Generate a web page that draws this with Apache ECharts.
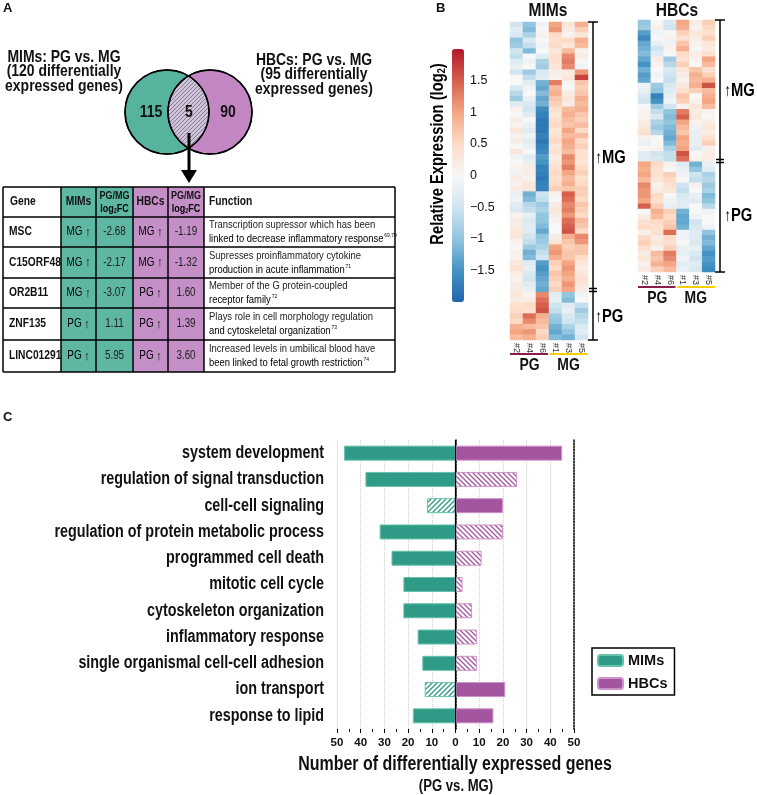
<!DOCTYPE html>
<html><head><meta charset="utf-8">
<script src="https://cdn.jsdelivr.net/npm/echarts@6/dist/echarts.min.js"></script>
<style>html,body{margin:0;padding:0;background:#fff}#c{width:757px;height:795px}</style>
</head><body><div id="c"></div>
<script>
// ================= DATA =================
// Panel A – Venn
const vennCounts = [115, 5, 90];            // MIMs only, shared, HBCs only
const vennCaptionLeft = ['MIMs: PG vs. MG', '(120 differentially', 'expressed genes)'];
const vennCaptionRight = ['HBCs: PG vs. MG', '(95 differentially', 'expressed genes)'];
// Panel A – table
const tableHeader = ['Gene', 'MIMs', 'PG/MG', 'HBCs', 'PG/MG', 'Function'];
const tableGenes = ['MSC', 'C15ORF48', 'OR2B11', 'ZNF135', 'LINC01291'];
const tableMimsDir = ['MG', 'MG', 'MG', 'PG', 'PG'];
const tableMimsFC = [-2.68, -2.17, -3.07, 1.11, 5.95];
const tableHbcsDir = ['MG', 'MG', 'PG', 'PG', 'PG'];
const tableHbcsFC = [-1.19, -1.32, 1.60, 1.39, 3.60];
const tableFunction = [
  ['Transcription supressor which has been', 'linked to decrease inflammatory response'],
  ['Supresses proinflammatory cytokine', 'production in acute inflammation'],
  ['Member of the G protein-coupled', 'receptor family'],
  ['Plays role in cell morphology regulation', 'and cytoskeletal organization'],
  ['Increased levels in umbilical blood have', 'been linked to fetal growth restriction']
];
const tableRefs = ['69,70', '71', '72', '73', '74'];

// Panel B – heatmaps (relative expression, log2)
const heatSamples = ['#2', '#4', '#6', '#1', '#3', '#5'];
const heatGroups = ['PG', 'MG'];
const colorbarTicks = [1.5, 1, 0.5, 0, -0.5, -1, -1.5];
const mimsHeat = [
  [-0.5,-1.0,-0.1,1.0,0.3,0.9],[-0.3,-1.1,0.0,1.1,0.2,0.6],[-0.4,-0.8,0.1,0.5,0.1,0.3],
  [-1.0,-0.4,0.0,0.4,0.5,0.9],[-0.9,-0.6,-0.1,0.5,0.3,0.8],[-0.5,-1.1,0.0,0.3,0.8,0.1],
  [-0.6,0.0,-0.3,0.4,1.2,0.2],[-0.3,-0.1,-0.8,0.4,1.3,0.0],[-0.2,0.0,-0.9,0.3,1.2,-0.1],
  [-0.5,-0.9,-0.4,0.2,0.2,1.1],[0.0,-0.6,-0.3,0.1,0.3,1.7],[0.0,-0.3,-1.2,1.3,0.1,0.7],
  [-0.4,-0.1,-1.3,0.8,0.0,0.6],[-0.7,0.0,-1.1,0.9,0.2,0.7],[-0.9,-0.2,-1.3,0.7,0.3,0.9],
  [-0.3,-0.4,-1.2,0.6,0.2,0.8],[0.1,-0.5,-1.6,0.4,0.8,0.9],[0.0,-0.3,-1.7,0.3,0.9,0.7],
  [0.2,0.0,-1.8,0.4,0.8,0.6],[0.1,-0.2,-1.8,0.5,0.7,0.8],[0.3,-0.3,-1.8,0.3,1.0,0.5],
  [0.1,-0.1,-1.7,0.4,0.8,0.8],[0.2,-0.3,-1.8,0.5,1.0,0.5],[0.0,-0.2,-1.7,0.3,0.9,0.6],
  [0.3,0.0,-1.6,0.4,0.8,0.4],[-0.1,-0.3,-1.4,0.2,1.2,0.4],[0.0,-0.2,-1.5,0.3,1.1,0.3],
  [0.1,0.2,-1.7,0.4,1.3,0.5],[-0.1,0.2,-1.7,0.5,1.0,0.6],[0.2,0.1,-1.8,0.4,0.8,0.4],
  [0.1,0.3,-1.7,0.5,0.9,0.5],[0.2,0.3,-1.7,0.6,0.7,0.6],[-0.2,-1.2,-0.5,0.1,1.5,0.6],
  [-0.1,-1.1,-0.6,0.0,1.4,0.5],[-0.3,-0.7,-0.9,0.2,1.2,0.7],[-0.4,-0.6,-0.8,0.3,1.3,0.6],
  [0.1,-0.2,-1.0,0.2,1.1,0.5],[0.2,-0.4,-1.0,0.1,1.4,0.8],[0.2,-0.3,-1.1,0.0,1.5,0.7],
  [0.3,-0.3,-1.3,0.0,1.6,0.5],[0.3,-0.5,-1.0,0.2,0.9,1.2],[0.1,-0.6,-0.9,0.3,0.7,1.1],
  [0.0,-0.9,-0.8,1.0,0.6,0.7],[0.1,-1.2,-0.6,1.1,0.7,0.7],[0.1,-1.1,-0.5,0.9,0.7,0.5],
  [0.3,-0.3,-1.4,0.6,1.0,0.3],[0.4,-0.2,-1.5,0.5,1.1,0.2],[0.2,-0.4,-1.4,0.7,1.0,0.3],
  [0.1,-0.5,-1.3,0.6,0.9,0.4],[0.2,-0.3,-1.2,0.5,1.1,0.3],[0.2,-0.2,-1.3,0.6,1.0,0.2],
  [0.3,0.1,1.2,-0.3,-1.0,-0.1],[0.2,0.2,1.4,-0.2,-1.1,0.0],[0.4,0.5,1.5,-0.5,-0.3,-0.6],
  [0.5,0.4,1.6,-0.6,-0.2,-0.9],[0.6,1.4,0.9,-0.9,-0.4,-0.7],[0.5,1.2,0.8,-1.0,-0.5,-0.6],
  [0.9,0.8,0.7,-1.2,-0.8,-0.4],[1.0,1.1,0.5,-1.3,-1.0,-0.3],[0.8,0.9,0.6,-1.1,-1.2,-0.5]
];
const hbcsHeat = [
  [-1.0,0.0,-0.4,1.0,0.2,0.6],[-0.9,0.1,-0.5,0.9,0.1,0.5],[-1.4,-0.1,0.0,0.6,0.3,0.4],
  [-1.6,0.0,0.1,0.4,0.2,0.6],[-1.3,-0.2,-0.1,0.7,0.1,0.3],[-1.2,-0.5,0.1,0.9,0.0,0.2],
  [-1.1,-0.3,0.0,0.5,0.2,0.4],[-1.3,0.2,-0.9,0.4,0.1,1.0],[-1.5,0.1,-0.7,0.6,0.0,0.8],
  [-1.2,0.0,-0.4,0.3,0.7,0.4],[-1.4,-0.1,-0.5,0.2,0.9,0.6],[-1.3,0.0,-0.6,0.1,0.8,0.9],
  [-0.1,-0.9,-0.4,0.3,0.9,1.6],[-0.2,-1.0,-0.3,0.4,0.6,0.8],[-0.4,-1.7,-0.2,0.7,0.0,0.9],
  [-0.5,-1.5,-0.1,0.6,0.1,1.0],[0.0,-0.9,-0.5,0.1,0.3,0.8],[0.1,-0.6,-1.0,1.3,0.2,0.1],
  [0.1,-0.4,-1.1,1.5,0.3,0.0],[0.2,-0.8,-1.0,1.0,0.1,0.2],[0.3,-0.9,-1.1,0.8,-0.1,0.3],
  [0.4,-0.7,-1.2,0.7,-0.2,0.2],[0.1,0.0,-1.3,1.0,-0.2,0.4],[-0.2,0.0,-1.1,0.9,-0.2,0.6],
  [0.0,0.1,-0.8,1.0,-0.3,0.1],[-0.3,-0.5,-0.6,1.6,0.0,0.2],[-0.3,-0.4,-0.6,1.4,0.1,0.2],
  [1.0,0.5,0.1,-0.3,-1.2,-0.2],[0.9,0.4,0.0,-0.2,-1.0,-0.3],[1.0,0.4,0.6,-0.1,-0.5,-0.8],
  [0.8,0.3,0.5,0.0,-0.6,-0.7],[1.2,0.1,0.4,-0.5,0.1,-0.9],[1.1,0.2,0.3,-0.6,0.0,-0.8],
  [1.1,0.5,0.0,-0.4,-0.2,-1.1],[1.0,0.4,-0.1,-0.3,-0.3,-1.0],[1.5,0.6,-0.2,-0.3,0.0,-0.7],
  [0.0,0.9,0.6,-1.2,0.0,-0.1],[0.2,0.8,0.5,-1.3,-0.1,0.0],[0.4,0.5,0.6,-1.3,-0.5,0.0],
  [0.5,0.4,0.7,-1.2,-0.4,-0.1],[0.1,0.4,1.4,-0.1,-0.3,-1.0],[0.5,0.2,0.5,-0.1,-0.3,-1.2],
  [0.6,0.3,0.4,0.0,-0.4,-1.1],[0.4,0.1,0.6,-0.2,-0.2,-1.3],[0.2,0.8,1.3,-0.2,-0.4,-1.5],
  [0.3,0.7,1.2,-0.1,-0.5,-1.4],[0.1,0.9,1.0,-0.3,-0.3,-1.5],[0.2,0.6,0.8,-0.2,-0.4,-1.6]
];

// Panel C – GO terms
const goTerms = ['system development', 'regulation of signal transduction', 'cell-cell signaling',
  'regulation of protein metabolic process', 'programmed cell death', 'mitotic cell cycle',
  'cytoskeleton organization', 'inflammatory response', 'single organismal cell-cell adhesion',
  'ion transport', 'response to lipid'];
const mimsCounts = [47, 38, 12, 32, 27, 22, 22, 16, 14, 13, 18];
const hbcsCounts = [45, 26, 20, 20, 11, 3, 7, 9, 9, 21, 16];
const mimsHatched = [false, false, true, false, false, false, false, false, false, true, false];
const hbcsHatched = [false, true, false, true, true, true, true, true, true, false, false];
const countTicks = [-50, -40, -30, -20, -10, 0, 10, 20, 30, 40, 50];

// ================= STYLE =================
const FF = "'Liberation Sans',Arial,Helvetica,sans-serif";
const SX = 0.82;   // horizontal squeeze to mimic a condensed face
const TEAL = '#2f9a85', TEAL_L = '#66c2ad', PURP = '#a4559f', PURP_L = '#cc92ca';
const TEAL_T = '#5db7a3', PURP_T = '#c48fc7';

function hatch(color, dir, bg, size, lw) {
  const s = size || 5;
  const c = document.createElement('canvas'); c.width = s; c.height = s;
  const g = c.getContext('2d');
  g.fillStyle = bg || '#fff'; g.fillRect(0, 0, s, s);
  g.strokeStyle = color; g.lineWidth = lw || 1.3; g.beginPath();
  if (dir > 0) { g.moveTo(0, s); g.lineTo(s, 0); g.moveTo(-1, 1); g.lineTo(1, -1); g.moveTo(s - 1, s + 1); g.lineTo(s + 1, s - 1); }
  else { g.moveTo(0, 0); g.lineTo(s, s); g.moveTo(-1, s - 1); g.lineTo(1, s + 1); g.moveTo(s - 1, -1); g.lineTo(s + 1, 1); }
  g.stroke();
  return { image: c, repeat: 'repeat' };
}

// ================= GRAPHIC helpers =================
const G = [];
function T(x, y, text, size, bold, align, fill, sx, extraStyle) {
  G.push({ type: 'text', silent: true, z: 100, x: x, y: y, scaleX: sx == null ? SX : sx,
    style: Object.assign({ text: text, x: 0, y: 0, font: (bold ? 'bold ' : '') + size + 'px ' + FF,
      fill: fill || '#111', textAlign: align || 'left', textVerticalAlign: 'middle' }, extraStyle || {}) });
}
function RT(x, y, text, rich, align, rot) {
  G.push({ type: 'text', silent: true, z: 100, x: x, y: y, scaleX: SX, rotation: rot || 0,
    style: { text: text, x: 0, y: 0, textAlign: align || 'left', textVerticalAlign: 'middle', rich: rich } });
}
function L(x1, y1, x2, y2, w, color, z) {
  G.push({ type: 'line', silent: true, shape: { x1: x1, y1: y1, x2: x2, y2: y2 },
    style: { stroke: color || '#000', lineWidth: w || 1.5 }, z: z || 90 });
}
function R(x, y, w, h, fill, z) {
  G.push({ type: 'rect', silent: true, shape: { x: x, y: y, width: w, height: h }, style: { fill: fill }, z: z || 80 });
}
const rs = (size, bold, color, extra) => Object.assign({ fontSize: size, fontWeight: bold ? 'bold' : 'normal', fontFamily: FF, color: color || '#111' }, extra || {});

// Panel labels
T(3, 8, 'A', 13, true, 'left', '#111', 1);
T(436, 8, 'B', 13, true, 'left', '#111', 1);
T(3, 417, 'C', 13, true, 'left', '#111', 1);

// ---- Venn ----
const vc = [{ x: 167, y: 112 }, { x: 210, y: 112 }], vr = 42;
G.push({ type: 'circle', silent: true, shape: { cx: vc[0].x, cy: vc[0].y, r: vr }, style: { fill: '#58b39e', stroke: '#000', lineWidth: 1.5 }, z: 80 });
G.push({ type: 'circle', silent: true, shape: { cx: vc[1].x, cy: vc[1].y, r: vr }, style: { fill: '#c287c3', stroke: '#000', lineWidth: 1.5 }, z: 81 });
(function () {
  const hd = (vc[1].x - vc[0].x) / 2, a = Math.acos(hd / vr), pts = [];
  for (let k = 0; k <= 40; k++) { const t = -a + 2 * a * k / 40; pts.push([vc[0].x + vr * Math.cos(t), vc[0].y + vr * Math.sin(t)]); }
  for (let k = 0; k <= 40; k++) { const t = Math.PI - a + 2 * a * k / 40; pts.push([vc[1].x + vr * Math.cos(t), vc[1].y + vr * Math.sin(t)]); }
  G.push({ type: 'polygon', silent: true, shape: { points: pts }, style: { fill: hatch('#8a7a99', 1, '#cfc3d8', 4, 1), stroke: '#000', lineWidth: 1.2 }, z: 82 });
})();
G.push({ type: 'circle', silent: true, shape: { cx: vc[0].x, cy: vc[0].y, r: vr }, style: { fill: 'none', stroke: '#000', lineWidth: 1.5 }, z: 83 });
G.push({ type: 'circle', silent: true, shape: { cx: vc[1].x, cy: vc[1].y, r: vr }, style: { fill: 'none', stroke: '#000', lineWidth: 1.5 }, z: 83 });
T(151, 112, String(vennCounts[0]), 17, true, 'center');
T(189, 112, String(vennCounts[1]), 17, true, 'center');
T(228, 112, String(vennCounts[2]), 17, true, 'center');
vennCaptionLeft.forEach((s, i) => T(64, 57 + i * 14.5, s, 17, true, 'center'));
vennCaptionRight.forEach((s, i) => T(314, 60 + i * 14.5, s, 17, true, 'center'));
// arrow to table
L(189, 133, 189, 172, 3, '#000', 95);
G.push({ type: 'polygon', silent: true, shape: { points: [[181, 170], [197, 170], [189, 183]] }, style: { fill: '#000' }, z: 95 });

// ---- Table ----
const colX = [3, 61, 96, 133, 168, 204, 395];
const rowY = [187, 217, 247, 278, 308, 340, 372];
R(colX[1], rowY[0], colX[3] - colX[1], rowY[6] - rowY[0], TEAL_T);
R(colX[3], rowY[0], colX[5] - colX[3], rowY[6] - rowY[0], PURP_T);
colX.forEach(x => L(x, rowY[0], x, rowY[6], 1.5));
rowY.forEach(y => L(colX[0], y, colX[6], y, 1.5));
const hc = (rowY[0] + rowY[1]) / 2;
const mid = i => (colX[i] + colX[i + 1]) / 2;
T(10, hc, tableHeader[0], 12.5, true);
T(mid(1), hc, tableHeader[1], 12.5, true, 'center');
T(mid(3), hc, tableHeader[3], 12.5, true, 'center');
[2, 4].forEach(ci => {
  T(mid(ci), hc - 6, tableHeader[ci], 11, true, 'center');
  RT(mid(ci), hc + 7, '{a|log}{s|2}{a|FC}', { a: rs(11, true), s: rs(6.5, true, '#111', { padding: [5, 0, 0, 0] }) }, 'center');
});
T(209, hc, tableHeader[5], 12.5, true);
tableGenes.forEach((g, i) => {
  const yc = (rowY[i + 1] + rowY[i + 2]) / 2;
  T(9, yc, g, 12.5, true);
  RT(mid(1), yc, '{a|' + tableMimsDir[i] + ' }{b|\u2191}', { a: rs(12, false, '#222'), b: rs(13, true, '#111') }, 'center');
  T(mid(2), yc, tableMimsFC[i].toFixed(2), 12, false, 'center', '#222');
  RT(mid(3), yc, '{a|' + tableHbcsDir[i] + ' }{b|\u2191}', { a: rs(12, false, '#222'), b: rs(13, true, '#111') }, 'center');
  T(mid(4), yc, tableHbcsFC[i].toFixed(2), 12, false, 'center', '#222');
  T(209, yc - 7, tableFunction[i][0], 11.5, false, 'left', '#222');
  RT(209, yc + 7, '{a|' + tableFunction[i][1] + '}{s|' + tableRefs[i] + '}',
    { a: rs(11.5, false, '#222'), s: rs(6, false, '#555', { padding: [0, 0, 7, 1] }) }, 'left');
});

// ---- Heatmap annotations ----
T(548, 11, 'MIMs', 19, true, 'center');
T(677, 11, 'HBCs', 19, true, 'center');
function bracket(x, top, bot, brk) {
  L(x, top, x, bot, 1.5); L(x - 5, top, x + 5, top, 1.5); L(x - 5, bot, x + 5, bot, 1.5);
  L(x - 4, brk - 1.5, x + 4, brk - 1.5, 1.5); L(x - 4, brk + 1.5, x + 4, brk + 1.5, 1.5);
}
bracket(593, 22, 340, 290);
bracket(720, 20, 272, 161);
function upLabel(x, y, s) {
  RT(x, y, '{a|\u2191}{b|' + s + '}', { a: rs(17, false, '#333'), b: rs(18, true, '#111') }, 'left');
}
upLabel(595, 158, heatGroups[1]); upLabel(595, 317, heatGroups[0]);
upLabel(724, 91, heatGroups[1]); upLabel(724, 216, heatGroups[0]);
function groupBars(x0, x1, y, ly) {
  const m = (x0 + x1) / 2;
  L(x0, y, m - 1, y, 2.2, '#8b1d4e'); L(m + 1, y, x1, y, 2.2, '#f5cf00');
  T((x0 + m) / 2, ly, heatGroups[0], 17, true, 'center');
  T((m + x1) / 2, ly, heatGroups[1], 17, true, 'center');
}
groupBars(510, 588, 354, 365);
groupBars(638, 715, 287, 298);
RT(438, 154, '{a|Relative Expression (log}{s|2}{a|)}', { a: rs(18, true), s: rs(11, true, '#111', { padding: [7, 0, 0, 0] }) }, 'center', Math.PI / 2);

// ---- Panel C axis title ----
T(455, 765, 'Number of differentially expressed genes', 19.5, true, 'center');
T(456, 787, '(PG vs. MG)', 16, true, 'center');

// ================= SERIES =================
const heatRows = n => Array.from({ length: n }, (_, i) => String(i));
function heatData(m) { const d = []; m.forEach((row, r) => row.forEach((v, c) => d.push([c, r, v]))); return d; }

const mimsBarData = mimsCounts.map((v, i) => mimsHatched[i]
  ? { value: -v, itemStyle: { color: hatch(TEAL, 1), borderColor: TEAL_L, borderWidth: 1 } } : -v);
const hbcsBarData = hbcsCounts.map((v, i) => hbcsHatched[i]
  ? { value: v, itemStyle: { color: hatch(PURP, -1), borderColor: PURP_L, borderWidth: 1 } } : v);

const option = {
  animation: false,
  textStyle: { fontFamily: FF },
  grid: [
    { left: 337, top: 440, width: 237, height: 289, outerBoundsMode: 'none', containLabel: false },
    { left: 510, top: 22, width: 78, height: 318, outerBoundsMode: 'none', containLabel: false },
    { left: 638, top: 20, width: 77, height: 252, outerBoundsMode: 'none', containLabel: false },
    { left: 452, top: 49, width: 12, height: 253, outerBoundsMode: 'none', containLabel: false }
  ],
  xAxis: [
    { gridIndex: 0, type: 'value', min: countTicks[0], max: countTicks[countTicks.length - 1], interval: 10,
      axisLine: { lineStyle: { color: '#000', width: 1.2 } },
      axisTick: { show: true, length: 4, lineStyle: { color: '#000' } },
      minorTick: { show: true, splitNumber: 2, length: 3, lineStyle: { color: '#000' } },
      splitLine: { show: true, lineStyle: { color: '#cfcfcf', type: 'dotted' } },
      axisLabel: { formatter: v => String(Math.abs(v)), fontSize: 11.5, fontWeight: 'bold', color: '#111', margin: 8, fontFamily: FF } },
    { gridIndex: 1, type: 'category', data: heatSamples, position: 'bottom',
      axisLine: { show: false }, axisTick: { show: false },
      axisLabel: { rotate: -90, fontSize: 9, color: '#333', margin: 3, fontFamily: FF } },
    { gridIndex: 2, type: 'category', data: heatSamples, position: 'bottom',
      axisLine: { show: false }, axisTick: { show: false },
      axisLabel: { rotate: -90, fontSize: 9, color: '#333', margin: 3, fontFamily: FF } },
    { gridIndex: 3, type: 'category', data: ['cb'], show: false }
  ],
  yAxis: [
    { gridIndex: 0, type: 'category', data: goTerms, inverse: true,
      axisLine: { lineStyle: { color: '#000', type: 'dotted', width: 1.5 } },
      axisTick: { show: true, alignWithLabel: true, length: 4, lineStyle: { color: '#000' } },
      axisLabel: { show: false } },
    { gridIndex: 0, type: 'category', data: goTerms, inverse: true, position: 'right',
      axisLine: { lineStyle: { color: '#000', type: 'dotted', width: 1.5 } },
      axisTick: { show: false }, axisLabel: { show: false } },
    { gridIndex: 1, type: 'category', data: heatRows(mimsHeat.length), inverse: true, show: false },
    { gridIndex: 2, type: 'category', data: heatRows(hbcsHeat.length), inverse: true, show: false },
    { gridIndex: 3, type: 'value', min: -2, max: 2, interval: 0.5, position: 'right',
      axisLine: { show: false }, axisTick: { show: false }, splitLine: { show: false },
      axisLabel: { margin: 6, fontSize: 12.5, color: '#111', fontFamily: FF,
        formatter: v => colorbarTicks.some(t => Math.abs(t - v) < 1e-9) ? (v < 0 ? '\u2212' + Math.abs(v) : String(v)) : '' } }
  ],
  visualMap: {
    type: 'continuous', min: -2, max: 2, seriesIndex: [2, 3], show: true, calculable: false,
    left: 452, top: 49, itemWidth: 12, itemHeight: 253, padding: 0, hoverLink: false,
    inRange: { color: ['#2166ac', '#4393c3', '#92c5de', '#d1e5f0', '#f7f7f7', '#fddbc7', '#f4a582', '#d6604d', '#b2182b'] }
  },
  legend: {
    data: ['MIMs', 'HBCs'], orient: 'vertical', left: 592, top: 648,
    borderColor: '#000', borderWidth: 1.5, padding: [5, 7, 4, 5], itemGap: 8,
    itemWidth: 25, itemHeight: 11, selectedMode: false,
    textStyle: { fontSize: 14.5, fontWeight: 'bold', color: '#111', fontFamily: FF }
  },
  series: [
    { name: 'MIMs', type: 'bar', xAxisIndex: 0, yAxisIndex: 0, data: mimsBarData, barWidth: 15, barGap: '-100%',
      itemStyle: { color: TEAL, borderColor: TEAL_L, borderWidth: 1 },
      markLine: { silent: true, symbol: 'none', label: { show: false }, data: [{ xAxis: 0 }],
        lineStyle: { color: '#000', type: 'solid', width: 1.2 } } },
    { name: 'HBCs', type: 'bar', xAxisIndex: 0, yAxisIndex: 0, data: hbcsBarData, barWidth: 15, barGap: '-100%',
      itemStyle: { color: PURP, borderColor: PURP_L, borderWidth: 1 } },
    { name: 'MIMs heatmap', type: 'heatmap', xAxisIndex: 1, yAxisIndex: 2, data: heatData(mimsHeat), silent: true },
    { name: 'HBCs heatmap', type: 'heatmap', xAxisIndex: 2, yAxisIndex: 3, data: heatData(hbcsHeat), silent: true },
    // category labels of panel C, placed through the category axis and drawn condensed
    { name: 'GO labels', type: 'custom', xAxisIndex: 0, yAxisIndex: 0, silent: true, clip: false, z: 5,
      data: goTerms.map((t, i) => [countTicks[0], i]),
      renderItem: function (params, api) {
        const p = api.coord([api.value(0), api.value(1)]);
        return { type: 'text', x: p[0] - 13, y: p[1], scaleX: SX,
          style: { text: goTerms[params.dataIndex], x: 0, y: 0, font: 'bold 17.5px ' + FF, fill: '#111',
            textAlign: 'right', textVerticalAlign: 'middle' } };
      } }
  ],
  graphic: { elements: G }
};
const chart = echarts.init(document.getElementById('c'), null, { renderer: 'canvas' });
chart.setOption(option);
</script>
</body></html>
